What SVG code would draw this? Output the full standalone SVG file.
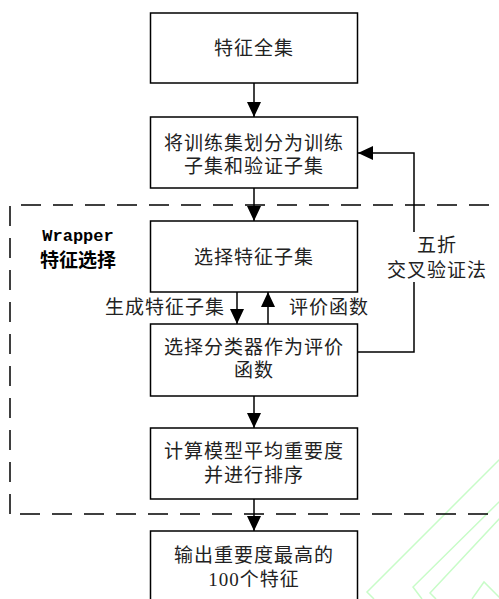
<svg xmlns="http://www.w3.org/2000/svg" width="499" height="599" viewBox="0 0 499 599">
<defs>
<marker id="arr" markerUnits="userSpaceOnUse" markerWidth="15" markerHeight="14" refX="15" refY="7" orient="auto">
<path d="M0,0 L15,7 L0,14 z" fill="#000"/>
</marker>
<style>
.box{fill:#fff;stroke:#000;stroke-width:1.5}
.t{font-family:"Liberation Serif","Noto Sans CJK SC",serif;font-size:19px;fill:#222;text-anchor:middle;letter-spacing:1px}
.c{fill:none;stroke:#000;stroke-width:1.5}
.dash{fill:none;stroke:#000;stroke-width:1.5;stroke-dasharray:20 12}
.wm{fill:none;stroke:#c8fcc8;stroke-width:1.5}
</style>
</defs>
<rect width="499" height="599" fill="#fff"/>
<g id="watermark">
<path class="wm" d="M374,599 L367,592 L501,458"/>
<path class="wm" d="M422,599 L413,587 L501,500"/>
<path class="wm" d="M436,599 L430,593 L501,517"/>
<path class="wm" d="M472,599 L484,582 L501,599"/>
</g>
<g id="wrapper-region">
<path class="dash" d="M10,514 V205 H505"/>
<path class="dash" d="M20,514 H499"/>
<text x="78" y="241" style="font-family:'Liberation Mono','Noto Sans CJK SC',monospace;font-size:17px;font-weight:bold;text-anchor:middle;fill:#000">Wrapper</text>
<text x="78" y="267" style="font-family:'Liberation Serif','Noto Sans CJK SC',serif;font-size:19px;font-weight:bold;text-anchor:middle;fill:#000">特征选择</text>
</g>
<g id="connectors">
<path class="c" d="M254,83 V117" marker-end="url(#arr)"/>
<path class="c" d="M254,188 V221" marker-end="url(#arr)"/>
<path class="c" d="M237,292 V324" marker-end="url(#arr)"/>
<path class="c" d="M268,324 V292" marker-end="url(#arr)"/>
<path class="c" d="M254,396 V428" marker-end="url(#arr)"/>
<path class="c" d="M254,499 V531" marker-end="url(#arr)"/>
<path class="c" d="M358,352 H414 V282"/>
<path class="c" d="M414,232 V153 H358" marker-end="url(#arr)"/>
<text class="t" x="165" y="314">生成特征子集</text>
<text class="t" x="329" y="314">评价函数</text>
<text class="t" x="437" y="252">五折</text>
<text class="t" x="437" y="277">交叉验证法</text>
</g>
<g id="n1">
<rect class="box" x="150.5" y="13" width="207" height="70"/>
<text class="t" x="254" y="55">特征全集</text>
</g>
<g id="n2">
<rect class="box" x="150.5" y="117" width="207" height="71"/>
<text class="t" x="254" y="150">将训练集划分为训练</text>
<text class="t" x="254" y="173">子集和验证子集</text>
</g>
<g id="n3">
<rect class="box" x="150.5" y="221" width="207" height="71"/>
<text class="t" x="254" y="264">选择特征子集</text>
</g>
<g id="n4">
<rect class="box" x="150.5" y="324" width="207" height="72"/>
<text class="t" x="254" y="354">选择分类器作为评价</text>
<text class="t" x="254" y="377">函数</text>
</g>
<g id="n5">
<rect class="box" x="150.5" y="428" width="207" height="71"/>
<text class="t" x="254" y="458">计算模型平均重要度</text>
<text class="t" x="254" y="482">并进行排序</text>
</g>
<g id="n6">
<rect class="box" x="150.5" y="531" width="207" height="80"/>
<text class="t" x="254" y="562">输出重要度最高的</text>
<text class="t" x="254" y="586">100个特征</text>
</g>
</svg>
